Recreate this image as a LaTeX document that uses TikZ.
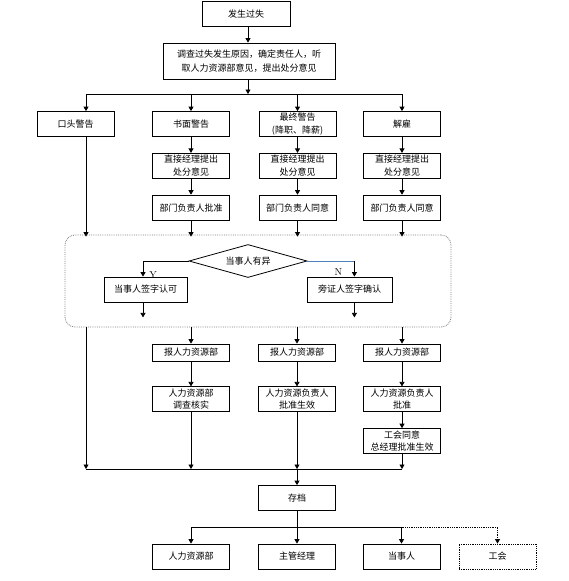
\documentclass[tikz,border=0pt]{standalone}
\usepackage{fontspec}
\newfontfamily\cjk{Noto Sans CJK SC}
\usepackage{xcolor}
\usepackage{tikz}
\usetikzlibrary{arrows.meta, positioning, shapes.geometric}
\definecolor{linkblue}{RGB}{79,129,189}

\begin{document}
\begin{tikzpicture}[x=1pt, y=-1pt,
        box/.style={rectangle, draw=black, line width=0.8pt, minimum width=77pt, minimum height=25pt, inner sep=1pt, align=center, font=\cjk\fontsize{9}{12.5}\selectfont},
        flatbox/.style={box, minimum height=17pt},
        decision/.style={diamond, draw=black, line width=0.8pt, minimum width=118pt, minimum height=33pt, aspect=3.6, inner sep=0pt, font=\cjk\fontsize{9}{11}\selectfont},
        group/.style={rectangle, draw=gray, densely dotted, line width=0.8pt, rounded corners=10pt, minimum width=386pt, minimum height=92pt},
        relation/.style={-{Triangle[length=4.5pt, width=5pt]}, line width=0.8pt},
        link/.style={line width=0.8pt},
        answer/.style={font=\fontsize{10}{12}\selectfont, inner sep=0pt}
    ]
        \useasboundingbox (0,0) rectangle (568,581);

        % Classes
        \node[box, minimum width=88pt] (fault) at (246,14) {发生过失};
        \node[box, minimum width=172pt, minimum height=36pt] (probe) at (249,61) {调查过失发生原因，确定责任人，听\\[1.5pt]取人力资源部意见，提出处分意见};

        \node[box] (oral) at (75.5,124) {口头警告};
        \node[box] (written) at (191,124) {书面警告};
        \node[box] (final) at (297.5,124) {最终警告\\(降职、降薪)};
        \node[box] (dismiss) at (402,124) {解雇};

        \node[box, below=16pt of written] (mgr2) {直接经理提出\\处分意见};
        \node[box, below=16pt of final] (mgr3) {直接经理提出\\处分意见};
        \node[box, below=16pt of dismiss] (mgr4) {直接经理提出\\处分意见};

        \node[box, below=16pt of mgr2] (dept2) {部门负责人批准};
        \node[box, below=16pt of mgr3] (dept3) {部门负责人同意};
        \node[box, below=16pt of mgr4] (dept4) {部门负责人同意};

        \node[group] (review) at (258,281) {};
        \node[decision] (dissent) at (248,261) {当事人有异};
        \node[box, minimum width=83pt] (accept) at (145.5,289.5) {当事人签字认可};
        \node[box, minimum width=85pt] (witness) at (349.5,289.5) {旁证人签字确认};

        \node[flatbox] (report2) at (191,352.5) {报人力资源部};
        \node[flatbox] (report3) at (297,352.5) {报人力资源部};
        \node[flatbox] (report4) at (402,352.5) {报人力资源部};

        \node[box, below=25pt of report2] (check2) {人力资源部\\调查核实};
        \node[box, below=25pt of report3] (check3) {人力资源负责人\\批准生效};
        \node[box, below=25pt of report4] (check4) {人力资源负责人\\批准};
        \node[box, below=16pt of check4] (union4) {工会同意\\总经理批准生效};

        \node[box] (archive) at (297,498) {存档};
        \node[box] (copyhr) at (191,556.5) {人力资源部};
        \node[box] (copymgr) at (297,556.5) {主管经理};
        \node[box] (copyparty) at (401.5,556.5) {当事人};
        \node[box, densely dotted] (copyunion) at (497.5,556.5) {工会};

        % Relations
        \coordinate (split) at (248,94);
        \coordinate (c1) at (86,94);
        \coordinate (merge) at (297,469);
        \coordinate (spread) at (297,527);

        \draw[relation] (fault.south -| split) -- (probe.north -| split);
        \draw[relation] (probe.south -| split) -- (split);
        \draw[link] (c1) -- (split -| dismiss);
        \draw[relation] (c1) -- (c1 |- oral.north);
        \draw[relation] (split -| written) -- (written);
        \draw[relation] (split -| final) -- (final);
        \draw[relation] (split -| dismiss) -- (dismiss);

        \draw[relation] (written) -- (mgr2);
        \draw[relation] (final) -- (mgr3);
        \draw[relation] (dismiss) -- (mgr4);
        \draw[relation] (mgr2) -- (dept2);
        \draw[relation] (mgr3) -- (dept3);
        \draw[relation] (mgr4) -- (dept4);

        \draw[relation] (c1 |- oral.south) -- ([yshift=-2pt]c1 |- review.north);
        \draw[relation] (dept2) -- ([yshift=-2pt]dept2 |- review.north);
        \draw[relation] (dept3) -- ([yshift=-2pt]dept3 |- review.north);
        \draw[relation] (dept4) -- ([yshift=-2pt]dept4 |- review.north);

        \draw[relation] (dissent.west) -| ([xshift=-2.5pt]accept.north) node[answer, pos=0.75, right=6pt, yshift=-6pt] {Y};
        \draw[link, linkblue] (dissent.east) -- ++(47,0) coordinate (nturn);
        \draw[relation] (nturn) -- (nturn |- witness.north) node[answer, midway, left=12pt, yshift=-3pt] {N};
        \draw[relation] ([xshift=-2.5pt]accept.south) -- ++(0,15);
        \draw[relation] (nturn |- witness.south) -- ++(0,15);

        \draw[relation] (c1 |- review.south) -- (c1 |- merge);
        \draw[relation] (review.south -| report2) -- (report2);
        \draw[relation] (review.south -| report3) -- (report3);
        \draw[relation] (review.south -| report4) -- (report4);
        \draw[relation] (report2) -- (check2);
        \draw[relation] (report3) -- (check3);
        \draw[relation] (report4) -- (check4);
        \draw[relation] (check4) -- (union4);

        \draw[link] (c1 |- merge) -- (merge -| union4);
        \draw[relation] (check2) -- (check2 |- merge);
        \draw[relation] (check3) -- (check3 |- merge);
        \draw[relation] (union4) -- (union4 |- merge);
        \draw[relation] (merge) -- (archive);

        \draw[link] (archive) -- (spread);
        \draw[link] (spread -| copyhr) -- (spread -| copyparty);
        \draw[relation] (spread -| copyhr) -- (copyhr);
        \draw[relation] (spread) -- (copymgr);
        \draw[relation] (spread -| copyparty) -- (copyparty);
        \draw[relation, densely dotted] (spread -| copyparty) -- (spread -| copyunion) -- (copyunion);
    \end{tikzpicture}
\end{document}
